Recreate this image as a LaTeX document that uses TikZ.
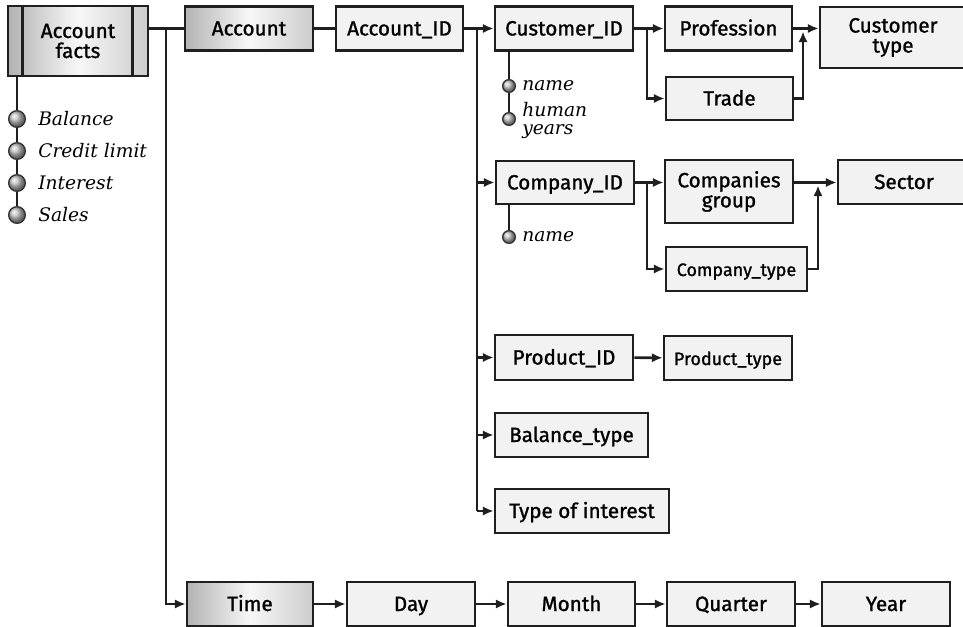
\documentclass[tikz,border=0pt]{standalone}
\usepackage{fontspec}
\setsansfont{Fira Sans}[FakeBold=1.2]
\newfontfamily\attrfont{DejaVu Serif}
\usetikzlibrary{arrows.meta,calc}
\begin{document}
\begin{tikzpicture}[x=0.75pt,y=-0.75pt]
\tikzset{
 bx/.style={draw=black!88, line width=2.1pt, fill=black!5, font=\sffamily\fontsize{15.5}{15}\selectfont, inner sep=0pt, align=center},
 one/.style={text height=12.5pt, text depth=2pt},
 sbx/.style={bx, font=\sffamily\fontsize{13.5}{13.5}\selectfont},
 gbx/.style={bx, left color=black!30, right color=black!20, middle color=black!3},
 ln/.style={line width=1.9pt, draw=black!88},
 ar/.style={ln, -{Latex[length=8pt,width=7pt]}},
 attr/.style={font=\attrfont\itshape\fontsize{14}{13.5}\selectfont, anchor=west, inner sep=0pt, align=left},
 ballL/.style={circle, draw=black!80, line width=1pt, ball color=black!25, inner sep=0pt, minimum size=12.5pt},
 ballS/.style={circle, draw=black!80, line width=1pt, ball color=black!25, inner sep=0pt, minimum size=9.5pt},
}
\useasboundingbox (0,0) rectangle (963,627);

% top row
\node[gbx, minimum width=105pt, minimum height=52.5pt] (facts) at (78,41) {Account\\facts};
\draw[ln] ($(facts.north west)+(16,0)$) -- ($(facts.south west)+(16,0)$);
\draw[ln] ($(facts.north east)+(-17,0)$) -- ($(facts.south east)+(-17,0)$);
\node[gbx, one, minimum width=96pt, minimum height=33pt] (account) at (249,28.5) {Account};
\node[bx, one, minimum width=95.25pt, minimum height=33pt] (accid) at (399.5,28.5) {Account\_ID};
\node[bx, one, minimum width=103.5pt, minimum height=33pt] (custid) at (564,28.5) {Customer\_ID};
\node[bx, one, minimum width=95.25pt, minimum height=33pt] (prof) at (728.5,28.5) {Profession};
\node[bx, minimum width=109.5pt, minimum height=45.75pt] (custtype) at (893,37.5) {Customer\\type};
\node[bx, one, minimum width=95.25pt, minimum height=32.25pt] (trade) at (729.5,98.5) {Trade};

% company row
\node[bx, one, minimum width=103.5pt, minimum height=32.25pt] (compid) at (565,182.5) {Company\_ID};
\node[bx, minimum width=96pt, minimum height=47.25pt] (compgroup) at (729,191.5) {Companies\\group};
\node[bx, one, minimum width=99pt, minimum height=33pt] (sector) at (904,182) {Sector};
\node[sbx, one, minimum width=105.75pt, minimum height=33pt] (comptype) at (736.5,269) {Company\_type};

% product etc
\node[bx, one, minimum width=103.5pt, minimum height=33.75pt] (prodid) at (564,357.5) {Product\_ID};
\node[sbx, one, minimum width=96pt, minimum height=33pt] (prodtype) at (728,358) {Product\_type};
\node[bx, one, minimum width=114.75pt, minimum height=33pt] (baltype) at (571.5,435) {Balance\_type};
\node[bx, one, minimum width=130.5pt, minimum height=33pt] (typeint) at (582,511) {Type of interest};

% time row
\node[gbx, one, minimum width=94.5pt, minimum height=33pt] (time) at (250,604) {Time};
\node[bx, one, minimum width=96pt, minimum height=33pt] (day) at (411,604) {Day};
\node[bx, one, minimum width=95.25pt, minimum height=33pt] (month) at (571.5,604) {Month};
\node[bx, one, minimum width=96pt, minimum height=33pt] (quarter) at (731,604) {Quarter};
\node[bx, one, minimum width=96pt, minimum height=33pt] (year) at (886,604) {Year};

% connectors
\coordinate (t1) at (166,28.5);
\coordinate (t2) at (477,28.5);
\coordinate (b1) at (647,28.5);
\coordinate (b2) at (647,182.5);
\coordinate (m1) at (803,31.5);
\coordinate (m2) at (818,185.5);
\draw[ln] (facts.east |- account.west) -- (account.west);
\draw[ar] (t1) |- (time.west);
\draw[ln] (account) -- (accid);
\draw[ar] (accid) -- (custid);
\draw[ln] (t2) -- (t2 |- typeint);
\draw[ar] (t2 |- compid) -- (compid);
\draw[ar] (t2 |- prodid) -- (prodid);
\draw[ar] (t2 |- baltype) -- (baltype);
\draw[ar] (t2 |- typeint) -- (typeint);
\draw[ar] (custid) -- (prof);
\draw[ar] (b1) |- (trade.west);
\draw[ar] (prof.east) -- (custtype.west |- prof.east);
\draw[ar] (trade.east) -| (m1);
\draw[ar] (compid) -- (compgroup.west |- compid);
\draw[ar] (b2) |- (comptype.west);
\draw[ar] (compgroup.east |- compid) -- (sector.west |- compid);
\draw[ar] (comptype.east) -| (m2);
\draw[ar] (prodid) -- (prodtype);
\draw[ar] (time) -- (day);
\draw[ar] (day) -- (month);
\draw[ar] (month) -- (quarter);
\draw[ar] (quarter) -- (year);

% account facts attributes
\coordinate (a0) at (17,76);
\draw[ln] (a0) -- (17,215);
\node[ballL] (a1) at (17,119) {};
\node[ballL] (a2) at (17,151) {};
\node[ballL] (a3) at (17,183) {};
\node[ballL] (a4) at (17,215) {};
\node[attr] (l1) at (38,119) {Balance};
\node[attr] (l2) at (38,151) {Credit limit};
\node[attr] (l3) at (38,183) {Interest};
\node[attr] (l4) at (38,215) {Sales};

% customer attributes
\draw[ln] (custid.south -| 509,0) -- (509,119);
\node[ballS] (c1) at (509,86) {};
\node[ballS] (c2) at (509,119) {};
\node[attr] (n1) at (522,86) {name};
\node[attr] (n2) at (522,120) {human\\years};

% company attributes
\draw[ln] (compid.south -| 509,0) -- (509,237);
\node[ballS] (d1) at (509,237) {};
\node[attr] (n3) at (522,237) {name};
\end{tikzpicture}
\end{document}
